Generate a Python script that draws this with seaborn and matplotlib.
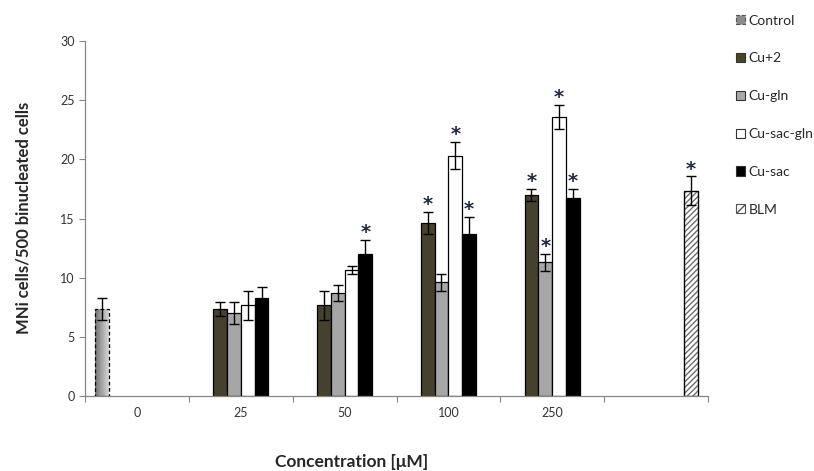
import numpy as np
import pandas as pd
import matplotlib
matplotlib.use("Agg")
import matplotlib.pyplot as plt
from matplotlib.patches import Patch
import seaborn as sns

# Concentration groups (the last group holds the bleomycin positive control)
concentrations = ["0", "25", "50", "100", "250", ""]
treatments = ["Control", "Cu+2", "Cu-gln", "Cu-sac-gln", "Cu-sac", "BLM"]

# Mean MNi cells per 500 binucleated cells, with SD and significance flags
control_mean = [7.35]
control_sd = [0.9]
control_sig = [False]

cu2_mean = [7.35, 7.65, 14.6, 17.0]
cu2_sd = [0.6, 1.25, 0.95, 0.5]
cu2_sig = [False, False, True, True]

cugln_mean = [7.0, 8.7, 9.6, 11.3]
cugln_sd = [0.95, 0.65, 0.7, 0.7]
cugln_sig = [False, False, False, True]

cusacgln_mean = [7.65, 10.65, 20.3, 23.6]
cusacgln_sd = [1.25, 0.3, 1.15, 1.0]
cusacgln_sig = [False, False, True, True]

cusac_mean = [8.25, 12.0, 13.7, 16.7]
cusac_sd = [1.0, 1.15, 1.45, 0.8]
cusac_sig = [False, True, True, True]

blm_mean = [17.35]
blm_sd = [1.2]
blm_sig = [True]

series = {
    "Control": (["0"], control_mean, control_sd, control_sig),
    "Cu+2": (["25", "50", "100", "250"], cu2_mean, cu2_sd, cu2_sig),
    "Cu-gln": (["25", "50", "100", "250"], cugln_mean, cugln_sd, cugln_sig),
    "Cu-sac-gln": (["25", "50", "100", "250"], cusacgln_mean, cusacgln_sd, cusacgln_sig),
    "Cu-sac": (["25", "50", "100", "250"], cusac_mean, cusac_sd, cusac_sig),
    "BLM": ([""], blm_mean, blm_sd, blm_sig),
}

rows = []
for name, (cats, means, sds, sigs) in series.items():
    for c, m, s, g in zip(cats, means, sds, sigs):
        rows.append({"conc": c, "treatment": name, "mni": m, "sd": s, "sig": g})
df = pd.DataFrame(rows)

colors = {
    "Control": "#A3A3A3",
    "Cu+2": "#4A4429",
    "Cu-gln": "#A6A6A6",
    "Cu-sac-gln": "#FFFFFF",
    "Cu-sac": "#000000",
    "BLM": "#FFFFFF",
}

sns.set_style("white")
plt.rcParams["font.family"] = ["Lato", "DejaVu Sans"]

fig = plt.figure(figsize=(8.14, 4.71), dpi=100)
ax = fig.add_axes([85 / 814, 1 - 396 / 471, 623 / 814, 355 / 471])

sns.barplot(data=df, x="conc", y="mni", hue="treatment", order=concentrations,
            hue_order=treatments, palette=colors, width=0.8, errorbar=None,
            edgecolor="black", linewidth=0.9, legend=False, ax=ax)

star_color = "#1F2A44"
for name, container in zip(treatments, ax.containers):
    sub = df[df["treatment"] == name].copy()
    sub["pos"] = sub["conc"].map({c: i for i, c in enumerate(concentrations)})
    sub = sub.sort_values("pos")
    bars = sorted(container.patches, key=lambda p: p.get_x())
    for bar, (_, r) in zip(bars, sub.iterrows()):
        xc = bar.get_x() + bar.get_width() / 2
        if name == "Control":
            bar.set_linestyle((0, (3, 2)))
            x0, w, h = bar.get_x(), bar.get_width(), bar.get_height()
            grad = np.linspace(0.45, 0.85, 64).reshape(1, -1)
            im = ax.imshow(grad, cmap="gray", vmin=0, vmax=1, aspect="auto",
                           extent=[x0, x0 + w, 0, h], zorder=bar.get_zorder() - 0.1)
            im.set_clip_path(bar)
            bar.set_facecolor("none")
        if name == "BLM":
            bar.set_hatch("//////")
            bar.set_edgecolor("#6E6E6E")
            ax.bar(xc, r["mni"], width=bar.get_width(), facecolor="none",
                   edgecolor="black", linewidth=0.9, zorder=bar.get_zorder() + 0.1)
        ax.errorbar(xc, r["mni"], yerr=r["sd"], fmt="none", ecolor="black",
                    elinewidth=1.0, capsize=3.5, capthick=1.0, zorder=5)
        if r["sig"]:
            ax.annotate("*", (xc, r["mni"] + r["sd"]), xytext=(0, -1.5),
                        textcoords="offset points", ha="center", va="bottom",
                        fontsize=14, fontweight="bold", color=star_color,
                        family="DejaVu Sans")

ax.set_xlim(-0.5, len(concentrations) - 0.5)
ax.set_ylim(0, 30)
ax.set_yticks(np.arange(0, 31, 5))
ax.set_xticks(np.arange(-0.5, len(concentrations), 1.0))
ax.set_xticklabels([])
ax.set_xticks(np.arange(len(concentrations)), minor=True)
ax.set_xticklabels(concentrations, minor=True)
ax.tick_params(axis="x", which="major", direction="out", length=4, width=0.8,
               color="#868686", bottom=True)
ax.tick_params(axis="x", which="minor", length=0, pad=8, labelsize=9,
               labelcolor="#333333")
ax.tick_params(axis="y", direction="out", length=4, width=0.8, color="#868686",
               labelsize=9, labelcolor="#333333", left=True)

for side in ["top", "right"]:
    ax.spines[side].set_visible(False)
for side in ["left", "bottom"]:
    ax.spines[side].set_color("#868686")
    ax.spines[side].set_linewidth(0.9)

ax.set_xlabel("")
ax.set_ylabel("")
fig.text(24 / 814, 1 - 218 / 471, "MNi cells/500 binucleated cells", rotation=90,
         ha="center", va="center", fontsize=12, fontweight="bold")
fig.text(352 / 814, 1 - 462 / 471, "Concentration [\u03bcM]", ha="center",
         va="center", fontsize=12.5, fontweight="bold")

handles = []
for name in treatments:
    if name == "Control":
        h = Patch(facecolor="#8C8C8C", edgecolor="#555555", linestyle="--",
                  linewidth=0.8, label=name)
    elif name == "BLM":
        h = Patch(facecolor="white", edgecolor="#555555", hatch="////",
                  linewidth=0.8, label=name)
    else:
        h = Patch(facecolor=colors[name], edgecolor="#333333", linewidth=0.8,
                  label=name)
    handles.append(h)

fig.legend(handles=handles, loc="upper left", bbox_to_anchor=(730 / 814, 1 - 9 / 471),
           frameon=False, fontsize=10, handlelength=0.65, handleheight=0.65,
           handletextpad=0.3, labelspacing=1.86, borderaxespad=0)

fig.savefig("out.png", dpi=100)
